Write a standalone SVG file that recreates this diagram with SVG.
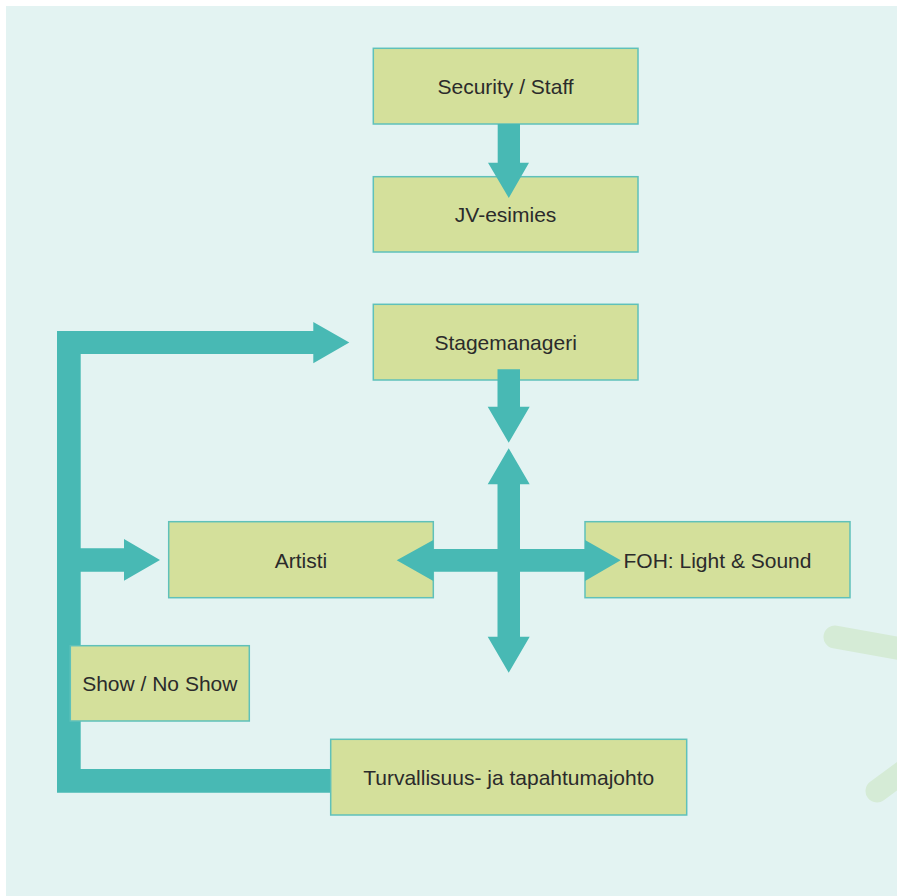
<svg xmlns="http://www.w3.org/2000/svg" width="897" height="896" viewBox="0 0 897 896">
<style>
.box{fill:#d4e09b;stroke:#5fc1ba;stroke-width:1.5}
.lbl{font-family:"Liberation Sans",Arial,sans-serif;font-size:21px;fill:#2b2b2b;text-anchor:middle}
.arr{fill:#48b9b4}
.deco{stroke:#d5ebd6;stroke-width:23;stroke-linecap:round;fill:none}
</style>
<rect x="6" y="6" width="891" height="890" fill="#e3f3f2"/>
<line class="deco" x1="835" y1="637" x2="930" y2="654"/>
<line class="deco" x1="877" y1="791" x2="930" y2="752"/>
<g id="connectors-back">
<polygon class="arr" points="57,331 313.3,331 313.3,322 349.3,342.5 313.3,363.3 313.3,354 80.7,354 80.7,548.3 124,548.3 124,539 160,560 124,580.7 124,571.7 80.7,571.7 80.7,769 331,769 331,792.7 57,792.7"/>
</g>
<g id="node-security"><rect class="box" x="373.3" y="48.3" width="264.7" height="75.7"/><text class="lbl" x="505.6" y="93.5">Security / Staff</text></g>
<g id="node-jv"><rect class="box" x="373.3" y="176.7" width="264.7" height="75.3"/><text class="lbl" x="505.6" y="221.5">JV-esimies</text></g>
<g id="node-stage"><rect class="box" x="373.3" y="304.3" width="264.7" height="75.7"/><text class="lbl" x="505.6" y="349.5">Stagemanageri</text></g>
<g id="node-artisti"><rect class="box" x="168.7" y="521.7" width="264.6" height="76"/><text class="lbl" x="301" y="567.5">Artisti</text></g>
<g id="node-foh"><rect class="box" x="585" y="521.7" width="265" height="76"/><text class="lbl" x="717.5" y="567.5">FOH: Light &amp; Sound</text></g>
<g id="node-show"><rect class="box" x="70.3" y="645.7" width="179" height="75.3"/><text class="lbl" x="159.8" y="691">Show / No Show</text></g>
<g id="node-turva"><rect class="box" x="330.7" y="739.3" width="356" height="75.7"/><text class="lbl" x="508.7" y="784.5">Turvallisuus- ja tapahtumajohto</text></g>
<g id="connectors">
<polygon class="arr" points="497.7,124 520,124 520,162.7 529,162.7 508.8,198 488,162.7 497.7,162.7"/>
<polygon class="arr" points="497.5,369.3 520,369.3 520,406.7 529.7,406.7 508.7,442.7 487.7,406.7 497.5,406.7"/>
<polygon class="arr" points="508.7,448.3 529.7,484.3 520,484.3 520,549 585,549 585,540 620.7,560.3 585,581 585,571.7 520,571.7 520,636.7 529.7,636.7 508.7,672.7 487.7,636.7 497.5,636.7 497.5,571.7 433.3,571.7 433.3,581 396.7,560.3 433.3,540 433.3,549 497.5,549 497.5,484.3 487.7,484.3"/>
</g>
</svg>
